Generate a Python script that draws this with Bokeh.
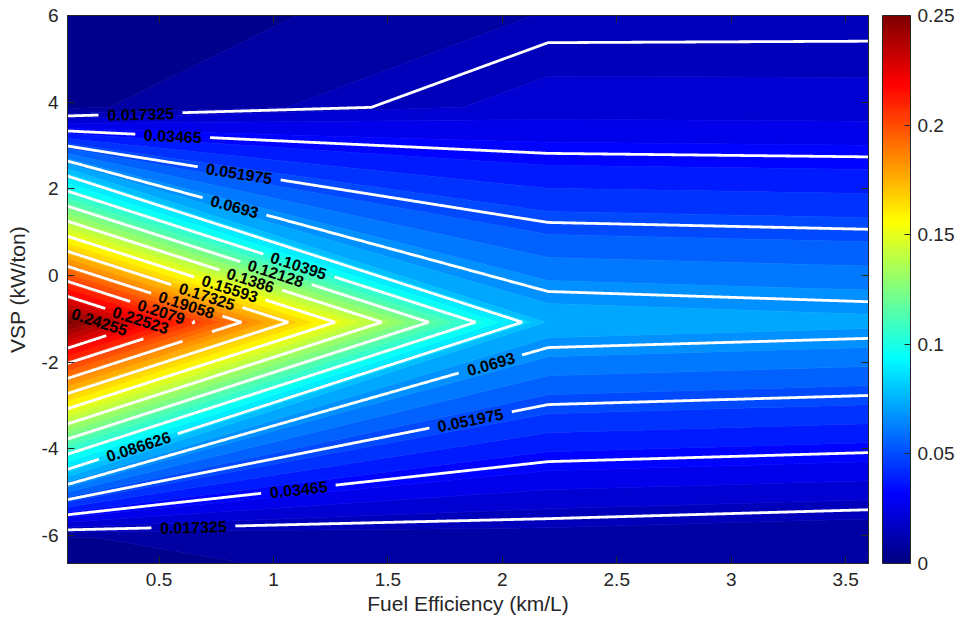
import numpy as np
from contourpy import contour_generator, FillType, LineType
from bokeh.plotting import figure
from bokeh.models import (Range1d, LinearAxis, FixedTicker, CustomJSTickFormatter,
                          ColorBar, LinearColorMapper, ColumnDataSource)
from bokeh.core.properties import value
from bokeh.embed import file_html
from bokeh.resources import INLINE

# ---------------- data ----------------
fuel_efficiency = [0.1, 2.2, 3.6]                 # grid columns (km/L)
vsp = [-6.65, -6.05, -1.08, 3.88, 6.0]            # grid rows (kW/ton)
density_vsp_m6_65 = [0.0060, 0.0134, 0.0087]
density_vsp_m6_05 = [0.0086, 0.0116, 0.0089]
density_vsp_m1_08 = [0.2550, 0.0770, 0.0742]
density_vsp_p3_88 = [0.0074, 0.0231, 0.0228]
density_vsp_p6_00 = [0.0032, 0.0149, 0.0152]

line_levels = [0.017325, 0.03465, 0.051975, 0.0693, 0.086626, 0.10395, 0.12128,
               0.1386, 0.15593, 0.17325, 0.19058, 0.2079, 0.22523, 0.24255]
line_labels = ["0.017325", "0.03465", "0.051975", "0.0693", "0.086626", "0.10395", "0.12128",
               "0.1386", "0.15593", "0.17325", "0.19058", "0.2079", "0.22523", "0.24255"]
fill_base = 0.003
fill_step = 0.005775
n_fill = 46
x_ticks = [0.5, 1, 1.5, 2, 2.5, 3, 3.5]
y_ticks = [-6, -4, -2, 0, 2, 4, 6]
colorbar_ticks = [0, 0.05, 0.1, 0.15, 0.2, 0.25]
color_low, color_high = 0.0, 0.25

# label placement: (level index, x position, branch)
label_specs = [(0, 0.42, "up"), (1, 0.56, "up"), (2, 0.85, "up"), (3, 0.83, "up"),
               (5, 1.11, "up"), (6, 1.01, "up"), (7, 0.90, "up"), (8, 0.81, "up"),
               (9, 0.71, "up"), (10, 0.62, "up"), (11, 0.51, "up"), (12, 0.42, "up"),
               (13, 0.24, "up"),
               (4, 0.41, "dn"), (1, 1.11, "dn"), (0, 0.65, "dn"), (2, 1.86, "dn"), (3, 1.95, "dn")]

# ---------------- layout constants ----------------
W, H = 960, 623
BL, BR, BT, BB = 67, 92, 15, 60
FW, FH = W - BL - BR, H - BT - BB
X0, X1 = fuel_efficiency[0], fuel_efficiency[-1]
Y0, Y1 = vsp[0], vsp[-1]
sx = FW / (X1 - X0)
sy = FH / (Y1 - Y0)

FONT = "Liberation Sans"
AX_COL = "#262626"


def jet(t):
    t = min(max(t, 0.0), 1.0)
    r = min(max(1.5 - abs(4 * t - 3), 0), 1)
    g = min(max(1.5 - abs(4 * t - 2), 0), 1)
    b = min(max(1.5 - abs(4 * t - 1), 0), 1)
    return "#%02x%02x%02x" % (int(round(r * 255)), int(round(g * 255)), int(round(b * 255)))


jet_palette = [jet(i / 255) for i in range(256)]

xg = np.array(fuel_efficiency, dtype=float)
yg = np.array(vsp, dtype=float)
Z = np.array([density_vsp_m6_65, density_vsp_m6_05, density_vsp_m1_08,
              density_vsp_p3_88, density_vsp_p6_00], dtype=float)

cg = contour_generator(x=xg, y=yg, z=Z, name="serial",
                       fill_type=FillType.OuterOffset, line_type=LineType.Separate)

fill_levels = [0.0] + [fill_base + k * fill_step for k in range(n_fill)]

# ---------------- filled bands ----------------
pxs, pys, pcol = [], [], []
for lo, hi in zip(fill_levels[:-1], fill_levels[1:]):
    pts_list, off_list = cg.filled(lo, hi)
    col = jet((lo - color_low) / (color_high - color_low))
    for pts, offs in zip(pts_list, off_list):
        rx, ry = [], []
        for a, b in zip(offs[:-1], offs[1:]):
            ring = pts[a:b]
            rx.append(list(ring[:, 0]))
            ry.append(list(ring[:, 1]))
        pxs.append([rx])
        pys.append([ry])
        pcol.append(col)

p = figure(width=W, height=H, x_range=Range1d(X0, X1), y_range=Range1d(Y0, Y1),
           output_backend="svg", toolbar_location=None,
           min_border_left=BL, min_border_right=BR, min_border_top=BT, min_border_bottom=BB,
           x_axis_label="Fuel Efficiency (km/L)", y_axis_label="VSP (kW/ton)")
p.grid.visible = False
p.outline_line_color = AX_COL
p.background_fill_color = "white"

p.multi_polygons(xs=pxs, ys=pys, fill_color=pcol, line_color=pcol, line_width=0.6)


# ---------------- contour lines with label gaps ----------------
def densify(pts, step_px=1.0):
    out = [pts[0]]
    for a, b in zip(pts[:-1], pts[1:]):
        d = np.hypot((b[0] - a[0]) * sx, (b[1] - a[1]) * sy)
        n = max(1, int(np.ceil(d / step_px)))
        t = np.linspace(0, 1, n + 1)[1:]
        out.extend(list(a + (b - a) * t[:, None]))
    return np.array(out)


def text_width(s, size=16):
    return size * sum(0.278 if c == "." else 0.556 for c in s)


lab_x, lab_y, lab_t, lab_a = [], [], [], []
gaps = {}
for li, xq, branch in label_specs:
    level = line_levels[li]
    cands = []
    for ln in cg.lines(level):
        for a, b in zip(ln[:-1], ln[1:]):
            if (a[0] - xq) * (b[0] - xq) <= 0 and a[0] != b[0]:
                t = (xq - a[0]) / (b[0] - a[0])
                yq = a[1] + t * (b[1] - a[1])
                ang = np.arctan2((b[1] - a[1]) * sy, (b[0] - a[0]) * sx)
                if ang > np.pi / 2:
                    ang -= np.pi
                if ang < -np.pi / 2:
                    ang += np.pi
                cands.append((yq, ang))
    if not cands:
        continue
    yq, ang = max(cands) if branch == "up" else min(cands)
    lab_x.append(xq)
    lab_y.append(yq)
    lab_t.append(line_labels[li])
    lab_a.append(float(ang))
    gaps.setdefault(li, []).append((xq, yq, text_width(line_labels[li]) / 2 + 8))

lxs, lys = [], []
for li, level in enumerate(line_levels):
    for ln in cg.lines(level):
        d = densify(ln)
        keep = np.ones(len(d), dtype=bool)
        for (gx, gy, hw) in gaps.get(li, []):
            dist = np.hypot((d[:, 0] - gx) * sx, (d[:, 1] - gy) * sy)
            keep &= dist > hw
        run = []
        for k in range(len(d)):
            if keep[k]:
                run.append(d[k])
            else:
                if len(run) > 1:
                    r = np.array(run)
                    lxs.append(list(r[:, 0]))
                    lys.append(list(r[:, 1]))
                run = []
        if len(run) > 1:
            r = np.array(run)
            lxs.append(list(r[:, 0]))
            lys.append(list(r[:, 1]))

p.multi_line(xs=lxs, ys=lys, line_color="white", line_width=2.8)

src = ColumnDataSource(dict(x=lab_x, y=lab_y, text=lab_t, angle=lab_a))
p.text(x="x", y="y", text="text", angle="angle", source=src,
       text_font=value(FONT), text_font_style="bold", text_font_size="16px",
       text_align="center", text_baseline="middle", text_color="black")

# ---------------- axes ----------------
fmt = CustomJSTickFormatter(code="return tick.toString();")
blank_fmt = CustomJSTickFormatter(code="return '';")


def style_axis(ax, ticks, show_labels=True, label_standoff=6):
    ax.ticker = FixedTicker(ticks=ticks)
    ax.major_tick_in = 7
    ax.major_tick_out = 0
    ax.minor_tick_in = 0
    ax.minor_tick_out = 0
    ax.minor_tick_line_color = None
    ax.axis_line_color = AX_COL
    ax.major_tick_line_color = AX_COL
    ax.major_label_text_font = FONT
    ax.major_label_text_color = AX_COL
    if show_labels:
        ax.formatter = fmt
        ax.major_label_text_font_size = "19px"
        ax.major_label_standoff = 9
        ax.axis_label_text_font = FONT
        ax.axis_label_text_font_size = "21px"
        ax.axis_label_text_font_style = "normal"
        ax.axis_label_text_color = AX_COL
        ax.axis_label_standoff = label_standoff
    else:
        ax.formatter = blank_fmt
        ax.major_label_text_font_size = "1px"
        ax.major_label_standoff = 0


style_axis(p.xaxis[0], x_ticks, label_standoff=3)
style_axis(p.yaxis[0], y_ticks, label_standoff=10)
top_ax = LinearAxis()
style_axis(top_ax, x_ticks, show_labels=False)
p.add_layout(top_ax, "above")
right_ax = LinearAxis()
style_axis(right_ax, y_ticks, show_labels=False)
p.add_layout(right_ax, "right")

# ---------------- colour bar ----------------
mapper = LinearColorMapper(palette=jet_palette, low=color_low, high=color_high)
cb = ColorBar(color_mapper=mapper, ticker=FixedTicker(ticks=colorbar_ticks), formatter=fmt,
              width=28, height=FH, location=(14, 0), padding=0, margin=0,
              major_tick_in=6, major_tick_out=0, major_tick_line_color=AX_COL,
              minor_tick_line_color=None,
              bar_line_color=AX_COL, bar_line_width=1, label_standoff=7,
              major_label_text_font=FONT, major_label_text_font_size="19px",
              major_label_text_color=AX_COL,
              background_fill_alpha=0, border_line_color=None)
p.add_layout(cb, "right")

open("out.html", "w").write(file_html(p, INLINE))
